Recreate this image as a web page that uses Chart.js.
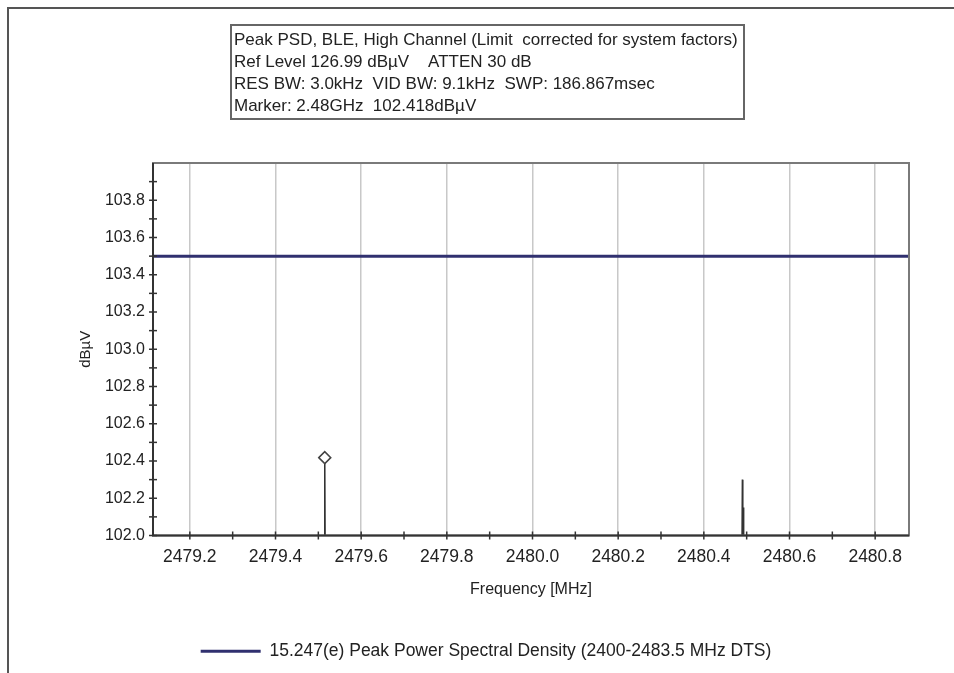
<!DOCTYPE html>
<html>
<head>
<meta charset="utf-8">
<title>Peak PSD, BLE, High Channel</title>
<script src="https://cdn.jsdelivr.net/npm/chart.js@4.4.1/dist/chart.umd.min.js"></script>
<style>
    html, body { margin: 0; padding: 0; background: #fff; }
    #wrap { position: relative; width: 954px; height: 673px; }
    #frame {
        position: absolute; left: 7px; top: 7px; right: 0; bottom: 0;
        border-top: 2px solid #555; border-left: 2px solid #555;
    }
    #info {
        position: absolute; left: 230px; top: 24px; width: 509px; height: 89px;
        border: 2px solid #666; padding: 3px 0 0 2px; box-sizing: content-box;
        font: 17px "Liberation Sans", Arial, sans-serif; line-height: 22px; color: #222;
        white-space: nowrap;
    }
</style>
</head>
<body>
<div id="wrap">
    <div id="frame"></div>
    <canvas id="psd"></canvas>
    <div id="info">
        Peak PSD, BLE, High Channel (Limit&nbsp; corrected for system factors)<br>
        Ref Level 126.99 dBµV &nbsp;&nbsp;&nbsp;ATTEN 30 dB<br>
        RES BW: 3.0kHz &nbsp;VID BW: 9.1kHz &nbsp;SWP: 186.867msec<br>
        Marker: 2.48GHz &nbsp;102.418dBµV
    </div>
</div>
<script>
/* global Chart */
(function () {
    'use strict';

    // Axis ranges (MHz / dBµV).
    var freqMin = 2479.114;
    var freqMax = 2480.879;
    var levelMin = 102.0;
    var levelMax = 104.0;

    // Tick labels.
    var xMajorTicks = [2479.2, 2479.4, 2479.6, 2479.8, 2480.0, 2480.2, 2480.4, 2480.6, 2480.8];
    var xMinorTicks = [2479.3, 2479.5, 2479.7, 2479.9, 2480.1, 2480.3, 2480.5, 2480.7];
    var yMajorTicks = [102.0, 102.2, 102.4, 102.6, 102.8, 103.0, 103.2, 103.4, 103.6, 103.8];
    var yMinorTicks = [102.1, 102.3, 102.5, 102.7, 102.9, 103.1, 103.3, 103.5, 103.7, 103.9];

    // Limit line: 15.247(e).
    var limitLabel = '15.247(e) Peak Power Spectral Density (2400-2483.5 MHz DTS)';
    var limitFreq = [2479.114, 2480.879];
    var limitLevel = [103.5, 103.5];

    // Measured trace (the floor sits below the 102.0 axis).
    var traceFreq = [2479.114, 2479.514, 2479.515, 2479.516, 2480.489, 2480.490, 2480.491, 2480.492, 2480.493, 2480.879];
    var traceLevel = [101.9, 101.9, 102.418, 101.9, 101.9, 102.30, 101.9, 102.15, 101.9, 101.9];

    // Peak marker.
    var markerFreq = [2479.515];
    var markerLevel = [102.418];

    function pairs(xs, ys) {
        return xs.map(function (x, i) { return { x: x, y: ys[i] }; });
    }
    function has(list, v) {
        return list.some(function (t) { return Math.abs(t - v) < 1e-6; });
    }
    function buildTicks(major, minor) {
        return major.concat(minor).sort(function (a, b) { return a - b; })
            .map(function (v) { return { value: v }; });
    }

    var fontFamily = '"Liberation Sans", Arial, sans-serif';

    // Plot border and axis tick marks crossing the axes.
    var plotFrame = {
        id: 'plotFrame',
        afterDraw: function (chart) {
            var ctx = chart.ctx, a = chart.chartArea;
            var xs = chart.scales.x, ys = chart.scales.y;
            ctx.save();
            ctx.lineWidth = 2;
            ctx.strokeStyle = '#7a7a7a';
            ctx.strokeRect(a.left, a.top, a.right - a.left, a.bottom - a.top);
            ctx.strokeStyle = '#333';
            ctx.beginPath();
            ctx.moveTo(a.left, a.top);
            ctx.lineTo(a.left, a.bottom);
            ctx.lineTo(a.right, a.bottom);
            ctx.stroke();
            ctx.lineWidth = 1.5;
            xs.ticks.forEach(function (t) {
                var px = xs.getPixelForValue(t.value);
                ctx.beginPath();
                ctx.moveTo(px, a.bottom - 4);
                ctx.lineTo(px, a.bottom + 4);
                ctx.stroke();
            });
            ys.ticks.forEach(function (t) {
                var py = ys.getPixelForValue(t.value);
                ctx.beginPath();
                ctx.moveTo(a.left - 4, py);
                ctx.lineTo(a.left + 4, py);
                ctx.stroke();
            });
            ctx.restore();
        }
    };

    new Chart(document.getElementById('psd'), {
        type: 'scatter',
        data: {
            datasets: [{
                label: limitLabel,
                data: pairs(limitFreq, limitLevel),
                showLine: true,
                borderColor: '#30306f',
                backgroundColor: '#30306f',
                borderWidth: 3,
                pointRadius: 0,
                order: 2
            }, {
                label: 'Trace',
                data: pairs(traceFreq, traceLevel),
                showLine: true,
                borderColor: '#333',
                borderWidth: 1.5,
                pointRadius: 0,
                order: 1
            }, {
                label: 'Marker',
                data: pairs(markerFreq, markerLevel),
                pointStyle: 'rectRot',
                pointRadius: 6,
                backgroundColor: '#fff',
                borderColor: '#444',
                borderWidth: 1.5,
                order: 0
            }]
        },
        options: {
            responsive: true,
            maintainAspectRatio: false,
            animation: false,
            layout: { padding: { left: 63, right: 45, top: 163, bottom: 3 } },
            plugins: {
                tooltip: { enabled: false },
                legend: {
                    position: 'bottom',
                    labels: {
                        filter: function (item) { return item.datasetIndex === 0; },
                        usePointStyle: true,
                        pointStyle: 'line',
                        pointStyleWidth: 60,
                        padding: 10,
                        color: '#222',
                        font: { family: fontFamily, size: 17.5 }
                    }
                }
            },
            scales: {
                x: {
                    type: 'linear',
                    min: freqMin,
                    max: freqMax,
                    afterBuildTicks: function (scale) { scale.ticks = buildTicks(xMajorTicks, xMinorTicks); },
                    afterFit: function (scale) { scale.height = 97; },
                    border: { display: false },
                    grid: {
                        drawTicks: false,
                        lineWidth: 1.5,
                        color: function (ctx) {
                            return ctx.tick && has(xMajorTicks, ctx.tick.value) ? '#c8c8c8' : 'rgba(0,0,0,0)';
                        }
                    },
                    ticks: {
                        autoSkip: false,
                        maxRotation: 0,
                        padding: 11,
                        color: '#222',
                        font: { family: fontFamily, size: 17.5 },
                        callback: function (v) { return has(xMajorTicks, v) ? v.toFixed(1) : ''; }
                    },
                    title: {
                        display: true,
                        text: 'Frequency [MHz]',
                        color: '#222',
                        font: { family: fontFamily, size: 16 },
                        padding: { top: 4, bottom: 33 }
                    }
                },
                y: {
                    type: 'linear',
                    min: levelMin,
                    max: levelMax,
                    afterBuildTicks: function (scale) { scale.ticks = buildTicks(yMajorTicks, yMinorTicks); },
                    afterFit: function (scale) { scale.width = 90; },
                    border: { display: false },
                    grid: { drawTicks: false, color: 'rgba(0,0,0,0)' },
                    ticks: {
                        autoSkip: false,
                        padding: 8,
                        color: '#222',
                        font: { family: fontFamily, size: 16 },
                        callback: function (v) { return has(yMajorTicks, v) ? v.toFixed(1) : ''; }
                    },
                    title: {
                        display: true,
                        text: 'dBµV',
                        color: '#222',
                        font: { family: fontFamily, size: 15 },
                        padding: { top: 14, bottom: 4 }
                    }
                }
            }
        },
        plugins: [plotFrame]
    });
})();
</script>
</body>
</html>
